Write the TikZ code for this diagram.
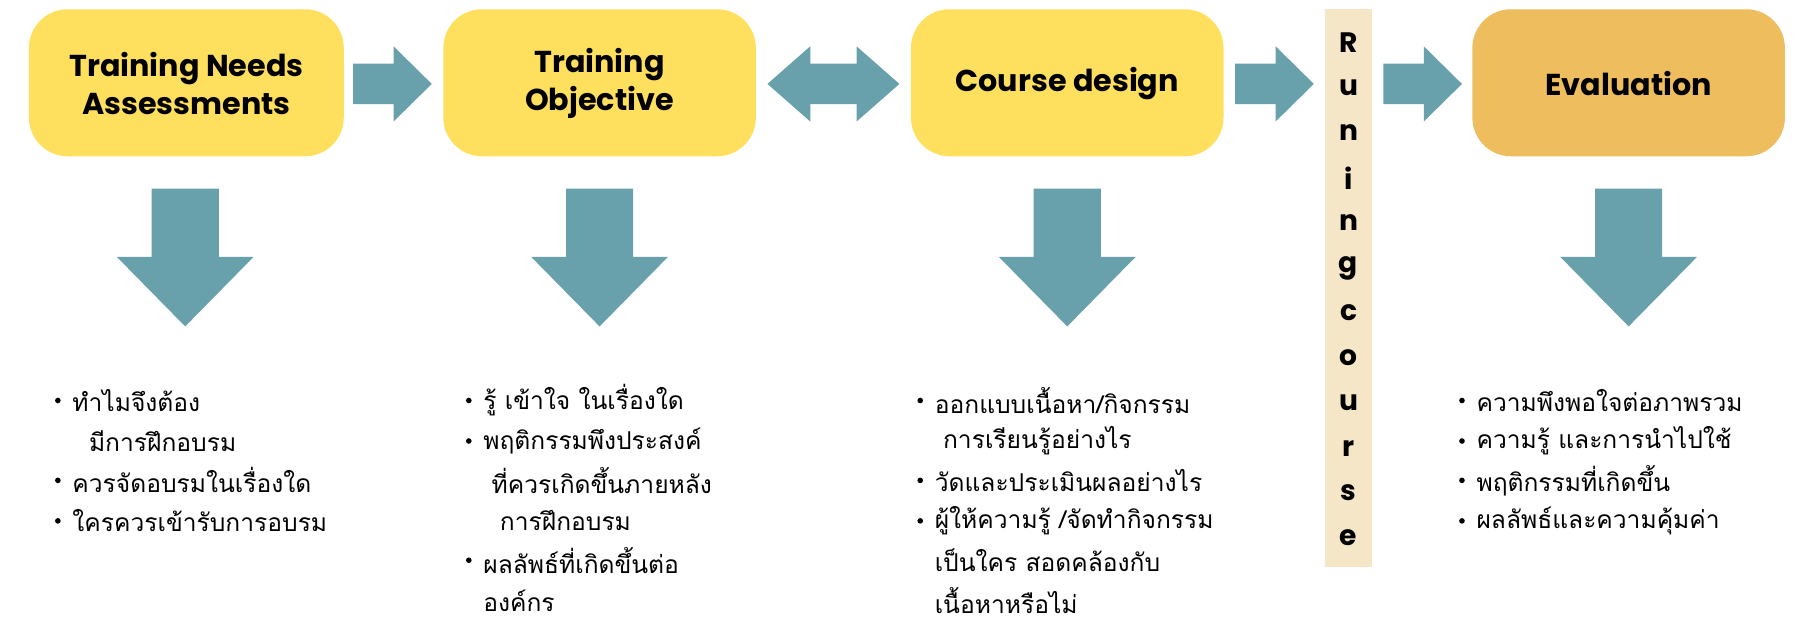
\documentclass[tikz,border=0pt]{standalone}
\usepackage{fontspec}
\setmainfont{Poppins}
\newfontfamily\thaifont[Script=Thai]{Loma}
\definecolor{yel}{HTML}{FFDF5E}
\definecolor{ora}{HTML}{EDBD5E}
\definecolor{teal}{HTML}{68A1AC}
\definecolor{beige}{HTML}{F5E6C8}
\begin{document}
\begin{tikzpicture}[x=0.011575cm,y=-0.011575cm,
 box/.style={rounded corners=10pt,fill=yel,font=\bfseries\fontsize{8.6}{10.5}\selectfont,align=center},
 th/.style={anchor=west,font=\thaifont\fontsize{7}{8}\selectfont,inner sep=0},
 bul/.style={circle,fill=black,inner sep=0,minimum size=1.6pt}]
\useasboundingbox (0,0) rectangle (1568,535);
\newcommand\rbox[6]{\fill[#6,rounded corners=11pt] (#1,#2) rectangle (#3,#4); \node[font=\bfseries\fontsize{8.6}{10.5}\selectfont,align=center] (#5) at ({(#1+#3)/2},72) {};}
\fill[yel,rounded corners=11pt] (25,8) rectangle (297,135);
\node[font=\bfseries\fontsize{8.6}{10.8}\selectfont,align=center] (b1) at (161,72) {Training Needs\\Assessments};
\fill[yel,rounded corners=11pt] (383,8) rectangle (653,135);
\node[font=\bfseries\fontsize{8.6}{10.8}\selectfont,align=center] (b2) at (518,72) {Training\\Objective};
\fill[yel,rounded corners=11pt] (787,8) rectangle (1057,135);
\node[font=\bfseries\fontsize{8.6}{10.8}\selectfont,align=center] (b3) at (922,72) {Course design};
\fill[ora,rounded corners=11pt] (1272,8) rectangle (1542,135);
\node[font=\bfseries\fontsize{8.6}{10.8}\selectfont,align=center] (b4) at (1407,72) {Evaluation};
\fill[beige] (1145,8) rectangle (1185,490);
\foreach \c [count=\i] in {R,u,n,i,n,g,c,o,u,r,s,e}
  \node[font=\bfseries\fontsize{8}{9}\selectfont] (rc\i) at (1165,{37+(\i-1)*38.9}) {\c};
% right arrows
\foreach \x in {305,1067,1195}
  \fill[teal] (\x,55) -- ++(35,0) -- ++(0,-15) -- ++(33,32.5) -- ++(-33,32.5) -- ++(0,-15) -- ++(-35,0) -- cycle;
\fill[teal] (663,72.5) -- (700,40) -- (700,55) -- (740,55) -- (740,40) -- (777,72.5) -- (740,105) -- (740,90) -- (700,90) -- (700,105) -- cycle;
% down arrows
\foreach \x in {160,518,922,1407}
  \fill[teal] (\x-29,163) -- (\x+29,163) -- (\x+29,222) -- (\x+59,222) -- (\x,282) -- (\x-59,222) -- (\x-29,222) -- cycle;
% lists
\newcommand\bl[3]{\node[bul] at (#1,#2) {}; \node[th] at (#1+12,#2) {#3};}
\newcommand\cl[3]{\node[th] at (#1+12,#2) {#3};}
\bl{50}{346}{ทำไมจึงต้อง}
\cl{50}{381}{\ \ มีการฝึกอบรม}
\bl{50}{415}{ควรจัดอบรมในเรื่องใด}
\bl{50}{450}{ใครควรเข้ารับการอบรม}
\bl{405}{346}{รู้ เข้าใจ ในเรื่องใด}
\bl{405}{381}{พฤติกรรมพึงประสงค์}
\cl{405}{415}{\ ที่ควรเกิดขึ้นภายหลัง}
\cl{405}{450}{\ \ การฝึกอบรม}
\bl{405}{484}{ผลลัพธ์ที่เกิดขึ้นต่อ}
\cl{405}{519}{องค์กร}
\bl{795}{346}{ออกแบบเนื้อหา/กิจกรรม}
\cl{795}{381}{\ การเรียนรู้อย่างไร}
\bl{795}{415}{วัดและประเมินผลอย่างไร}
\bl{795}{450}{ผู้ให้ความรู้ /จัดทำกิจกรรม}
\cl{795}{484}{เป็นใคร สอดคล้องกับ}
\cl{795}{519}{เนื้อหาหรือไม่}
\bl{1263}{346}{ความพึงพอใจต่อภาพรวม}
\bl{1263}{381}{ความรู้ และการนำไปใช้}
\bl{1263}{415}{พฤติกรรมที่เกิดขึ้น}
\bl{1263}{450}{ผลลัพธ์และความคุ้มค่า}
\end{tikzpicture}
\end{document}
